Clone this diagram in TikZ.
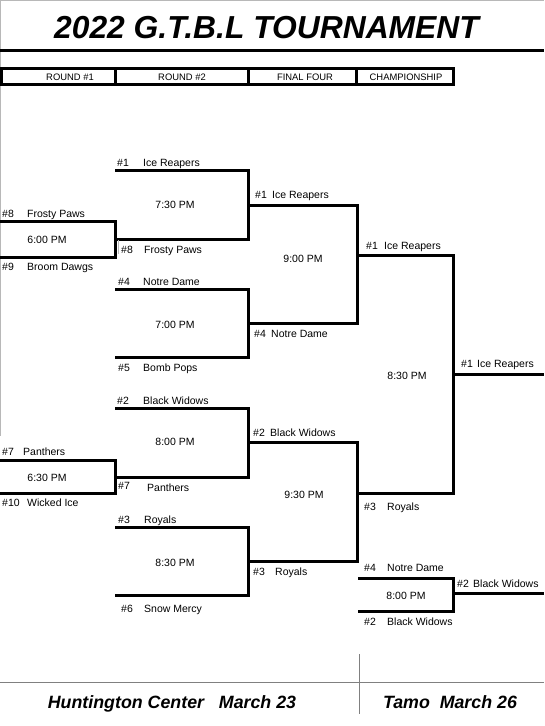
\documentclass[tikz,border=0pt]{standalone}
\usepackage{fontspec}
\setmainfont{Liberation Sans}
\newcommand\tlabel[6]{%
  \node[lbl] (#1s) at (#2,#4) {#5};
  \node[lbl] (#1n) at (#3,#4) {#6};}
\begin{document}
\begin{tikzpicture}[x=1pt,y=-1pt,
  br/.style={line width=3pt,line join=miter},
  lbl/.style={anchor=mid west,inner sep=0pt,yshift=-1.5pt,font=\fontsize{10.5}{12}\selectfont},
  tm/.style={anchor=mid,inner sep=0pt,yshift=-1.5pt,font=\fontsize{10.5}{12}\selectfont},
  hd/.style={anchor=mid,inner sep=0pt,yshift=-1pt,font=\fontsize{9.4}{11}\selectfont},
  ft/.style={anchor=mid,inner sep=0pt,font=\fontsize{17.8}{20}\selectfont\bfseries\itshape},
  gline/.style={line width=1pt,draw=black!50},
  lgline/.style={line width=1pt,draw=black!28}]
\useasboundingbox (0,0) rectangle (544,726);
\fill[white] (0,0) rectangle (544,726);

% title box
\draw[lgline] (0,0.5) -- (544,0.5);
\draw[lgline] (0.5,0) -- (0.5,436);
\draw[line width=3pt] (0,50) -- (544,50);
\node[inner sep=0pt,font=\fontsize{31.8}{36}\selectfont\bfseries\itshape] (title) at (266.5,28) {2022 G.T.B.L TOURNAMENT};

% header bar
\draw[line width=3pt] (1.5,68.5) rectangle (453.5,84.5);
\draw[line width=3pt] (115,68.5) -- (115,84.5);
\draw[line width=3pt] (248,68.5) -- (248,84.5);
\draw[line width=3pt] (356,68.5) -- (356,84.5);
\node[hd] (h1) at (70,77) {ROUND \#1};
\node[hd] (h2) at (182,77) {ROUND \#2};
\node[hd] (h3) at (305,77) {FINAL FOUR};
\node[hd] (h4) at (406,77) {CHAMPIONSHIP};

% coordinates of bracket corners
\coordinate (a1) at (0,221);   \coordinate (a2) at (115,257); \coordinate (a3) at (0,257);
\coordinate (b1) at (115,170); \coordinate (b2) at (248,239); \coordinate (b3) at (115,239);
\coordinate (c1) at (115,289); \coordinate (c2) at (248,357); \coordinate (c3) at (115,357);
\coordinate (d1) at (248,205); \coordinate (d2) at (357,323); \coordinate (d3) at (248,323);
\coordinate (e1) at (357,255); \coordinate (e2) at (453,493); \coordinate (e3) at (357,493);
\coordinate (e4) at (453,374); \coordinate (e5) at (544,374);
\coordinate (f1) at (0,460);   \coordinate (f2) at (115,493); \coordinate (f3) at (0,493);
\coordinate (g1) at (115,408); \coordinate (g2) at (248,477); \coordinate (g3) at (115,477);
\coordinate (k1) at (115,527); \coordinate (k2) at (248,595); \coordinate (k3) at (115,595);
\coordinate (m1) at (248,442); \coordinate (m2) at (357,561); \coordinate (m3) at (248,561);
\coordinate (n1) at (358,578); \coordinate (n2) at (453,611); \coordinate (n3) at (358,611);
\coordinate (n4) at (453,593); \coordinate (n5) at (544,593);

\draw[br] (a1) -| (a2) -- (a3);
\draw[br] (b1) -| (b2) -- (b3);
\draw[br] (c1) -| (c2) -- (c3);
\draw[br] (d1) -| (d2) -- (d3);
\draw[br] (e1) -| (e2) -- (e3);
\draw[br] (e4) -- (e5);
\draw[br] (f1) -| (f2) -- (f3);
\draw[br] (g1) -| (g2) -- (g3);
\draw[br] (k1) -| (k2) -- (k3);
\draw[br] (m1) -| (m2) -- (m3);
\draw[br] (n1) -| (n2) -- (n3);
\draw[br] (n4) -- (n5);
\coordinate (t1) at (118,240); \coordinate (t2) at (118,254);
\draw[lgline] (t1) -- (t2);

% round 1
\tlabel{ra}{2}{27}{213}{\#8}{Frosty Paws}
\tlabel{rb}{2}{27}{266}{\#9}{Broom Dawgs}
\node[tm] (ta) at (47,239) {6:00 PM};
\tlabel{rc}{2}{23}{451}{\#7}{Panthers}
\tlabel{rd}{2}{27}{502}{\#10}{Wicked Ice}
\node[tm] (tb) at (47,477) {6:30 PM};

% round 2
\tlabel{sa}{117}{143}{162}{\#1}{Ice Reapers}
\tlabel{sb}{121}{144}{249}{\#8}{Frosty Paws}
\node[tm] (tc) at (175,204) {7:30 PM};
\tlabel{sc}{118}{143}{281}{\#4}{Notre Dame}
\tlabel{sd}{118}{143}{367}{\#5}{Bomb Pops}
\node[tm] (td) at (175,324) {7:00 PM};
\tlabel{se}{117}{143}{400}{\#2}{Black Widows}
\node[lbl] (sfs) at (118,485) {\#7};
\node[lbl] (sfn) at (147,487) {Panthers};
\node[tm] (te) at (175,441) {8:00 PM};
\tlabel{sg}{118}{144}{519}{\#3}{Royals}
\tlabel{sh}{121}{144}{608}{\#6}{Snow Mercy}
\node[tm] (tf) at (175,562) {8:30 PM};

% final four
\tlabel{ua}{255}{272}{194}{\#1}{Ice Reapers}
\tlabel{ub}{254}{271}{333}{\#4}{Notre Dame}
\node[tm] (tg) at (303,258) {9:00 PM};
\tlabel{uc}{253}{270}{432}{\#2}{Black Widows}
\tlabel{ud}{253}{275}{571}{\#3}{Royals}
\node[tm] (th) at (304,494) {9:30 PM};

% championship
\tlabel{va}{366}{384}{245}{\#1}{Ice Reapers}
\tlabel{vb}{364}{387}{506}{\#3}{Royals}
\node[tm] (ti) at (407,375) {8:30 PM};
\tlabel{vc}{461}{477}{363}{\#1}{Ice Reapers}
\tlabel{vd}{364}{387}{567}{\#4}{Notre Dame}
\tlabel{ve}{364}{387}{621}{\#2}{Black Widows}
\node[tm] (tj) at (406,595) {8:00 PM};
\tlabel{vf}{457}{473}{583}{\#2}{Black Widows}

% footer
\draw[gline] (0,682) -- (544,682);
\draw[gline] (359,654) -- (359,714);
\node[ft] (f1t) at (172,706) {Huntington Center\ \ \ March 23};
\node[ft] (f2t) at (450,706) {Tamo\ \ March 26};
\end{tikzpicture}
\end{document}
